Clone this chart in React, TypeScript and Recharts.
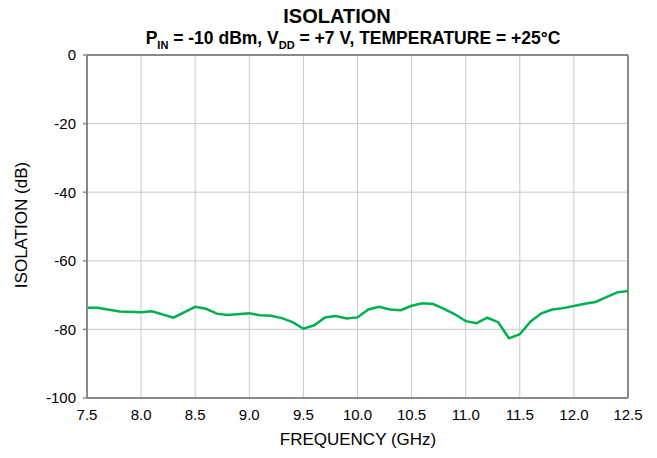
import { LineChart, Line, XAxis, YAxis, CartesianGrid, ReferenceLine } from 'recharts'

const frequencies = [
  7.5, 7.6, 7.8, 8.0, 8.1, 8.3, 8.5, 8.6, 8.7, 8.8, 9.0, 9.1, 9.2, 9.3, 9.4, 9.5, 9.6, 9.7, 9.8, 9.9,
  10.0, 10.1, 10.2, 10.3, 10.4, 10.5, 10.6, 10.7, 10.8, 10.9, 11.0, 11.1, 11.2, 11.3, 11.4, 11.5,
  11.6, 11.7, 11.8, 11.9, 12.0, 12.1, 12.2, 12.3, 12.4, 12.5,
]
const isolation = [
  -73.7, -73.7, -74.8, -75.0, -74.7, -76.6, -73.4, -74.0, -75.4, -75.8, -75.3, -75.9, -76.0, -76.7,
  -77.9, -79.8, -78.8, -76.5, -76.1, -76.8, -76.5, -74.2, -73.4, -74.2, -74.4, -73.1, -72.4, -72.6,
  -74.0, -75.6, -77.6, -78.2, -76.6, -77.9, -82.6, -81.4, -77.7, -75.3, -74.2, -73.8, -73.2, -72.5,
  -72.0, -70.6, -69.2, -68.8,
]
const xTicks = [7.5, 8.0, 8.5, 9.0, 9.5, 10.0, 10.5, 11.0, 11.5, 12.0, 12.5]
const yTicks = [0, -20, -40, -60, -80, -100]

const data = frequencies.map((f, i) => ({ freq: f, iso: isolation[i] }))

const font = '"Liberation Sans", Arial, sans-serif'

const App = () => {
  return (
    <div style={{ position: 'absolute', left: 0, top: 0, width: 657, height: 458, fontFamily: font, background: '#fff' }}>
      <div style={{ position: 'absolute', left: 0, width: 674, top: 5, textAlign: 'center', fontSize: 20, fontWeight: 'bold' }}>
        ISOLATION
      </div>
      <div style={{ position: 'absolute', left: 0, width: 706, top: 28, textAlign: 'center', fontSize: 17.5, fontWeight: 'bold', whiteSpace: 'nowrap' }}>
        P<sub style={{ fontSize: 11 }}>IN</sub> = -10 dBm, V<sub style={{ fontSize: 11 }}>DD</sub> = +7 V, TEMPERATURE = +25°C
      </div>
      <div
        style={{
          position: 'absolute',
          left: 22,
          top: 225,
          transform: 'translate(-50%, -50%) rotate(-90deg)',
          whiteSpace: 'nowrap',
          fontSize: 17,
        }}
      >
        ISOLATION (dB)
      </div>
      <div style={{ position: 'absolute', left: 0, width: 716, top: 430, textAlign: 'center', fontSize: 17 }}>
        FREQUENCY (GHz)
      </div>
      <LineChart
        width={657}
        height={458}
        data={data}
        margin={{ top: 55, right: 29, bottom: 20, left: 47 }}
        style={{ position: 'absolute', left: 0, top: 0 }}
      >
        <CartesianGrid stroke="#c8c8c8" strokeWidth={1} />
        <XAxis
          dataKey="freq"
          type="number"
          domain={[7.5, 12.5]}
          ticks={xTicks}
          tickFormatter={(v: number) => v.toFixed(1)}
          height={40}
          axisLine={{ stroke: '#888', strokeWidth: 2 }}
          tickLine={false}
          tickMargin={5}
          tick={{ fill: '#000', fontSize: 15, fontFamily: font }}
        />
        <YAxis
          type="number"
          domain={[-100, 0]}
          ticks={yTicks}
          width={40}
          axisLine={{ stroke: '#888', strokeWidth: 2 }}
          tickLine={{ stroke: '#888', strokeWidth: 1.5 }}
          tickSize={4}
          tickMargin={7}
          tick={{ fill: '#000', fontSize: 15, fontFamily: font }}
        />
        <ReferenceLine y={0} stroke="#888" strokeWidth={2} />
        <ReferenceLine x={12.5} stroke="#888" strokeWidth={2} />
        <Line
          dataKey="iso"
          type="linear"
          stroke="#00b050"
          strokeWidth={2.5}
          dot={false}
          isAnimationActive={false}
        />
      </LineChart>
    </div>
  )
}

export default App
